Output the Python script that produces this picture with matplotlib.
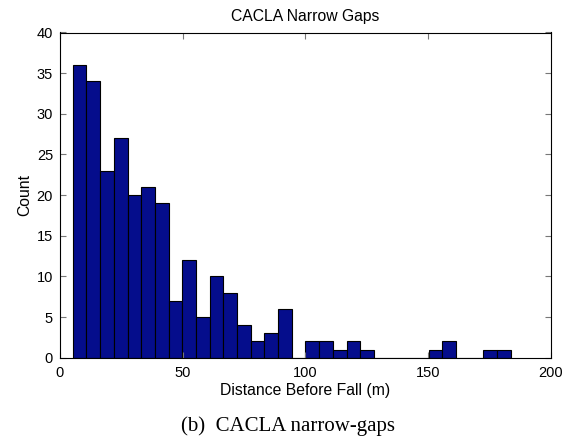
import numpy as np
import matplotlib
matplotlib.use('Agg')
import matplotlib.pyplot as plt

# histogram of distances travelled before falling (32 equal bins)
bin_start = 5.2
bin_width = 5.58
counts = [36, 34, 23, 27, 20, 21, 19, 7, 12, 5, 10, 8, 4, 2, 3, 6,
          0, 2, 2, 1, 2, 1, 0, 0, 0, 0, 1, 2, 0, 0, 1, 1]

x_ticks = [0, 50, 100, 150, 200]
y_ticks = [0, 5, 10, 15, 20, 25, 30, 35, 40]

plt.rcParams['font.family'] = ['Liberation Sans', 'DejaVu Sans']

fig = plt.figure(figsize=(5.76, 4.41), dpi=100)
ax = fig.add_axes([60 / 576, 1 - 357.7 / 441, 490.7 / 576, 325.2 / 441])

edges = bin_start + bin_width * np.arange(len(counts) + 1)
centers = (edges[:-1] + edges[1:]) / 2
ax.hist(centers, bins=edges, weights=counts, color='#050D8C',
        edgecolor='black', linewidth=0.8)

ax.set_xlim(0, 200)
ax.set_ylim(0, 40)
ax.set_xticks(x_ticks)
ax.set_yticks(y_ticks)
ax.tick_params(direction='in', length=4, labelsize=10.5, top=True, right=True,
               labeltop=False, labelright=False, color='#777777')
ax.tick_params(axis='x', pad=6)
ax.tick_params(axis='y', pad=5)
for spine in ax.spines.values():
    spine.set_linewidth(0.8)

ax.set_title('CACLA Narrow Gaps', fontsize=11.3, pad=8)
ax.set_xlabel('Distance Before Fall (m)', fontsize=11.3, labelpad=2)
ax.set_ylabel('Count', fontsize=11.3, labelpad=3)

fig.text(0.5, 1 - 426 / 441, '(b)  CACLA narrow-gaps', ha='center', va='center',
         fontsize=15, family=['Liberation Serif', 'DejaVu Serif'])

fig.savefig('out.png', dpi=100)
plt.close()
